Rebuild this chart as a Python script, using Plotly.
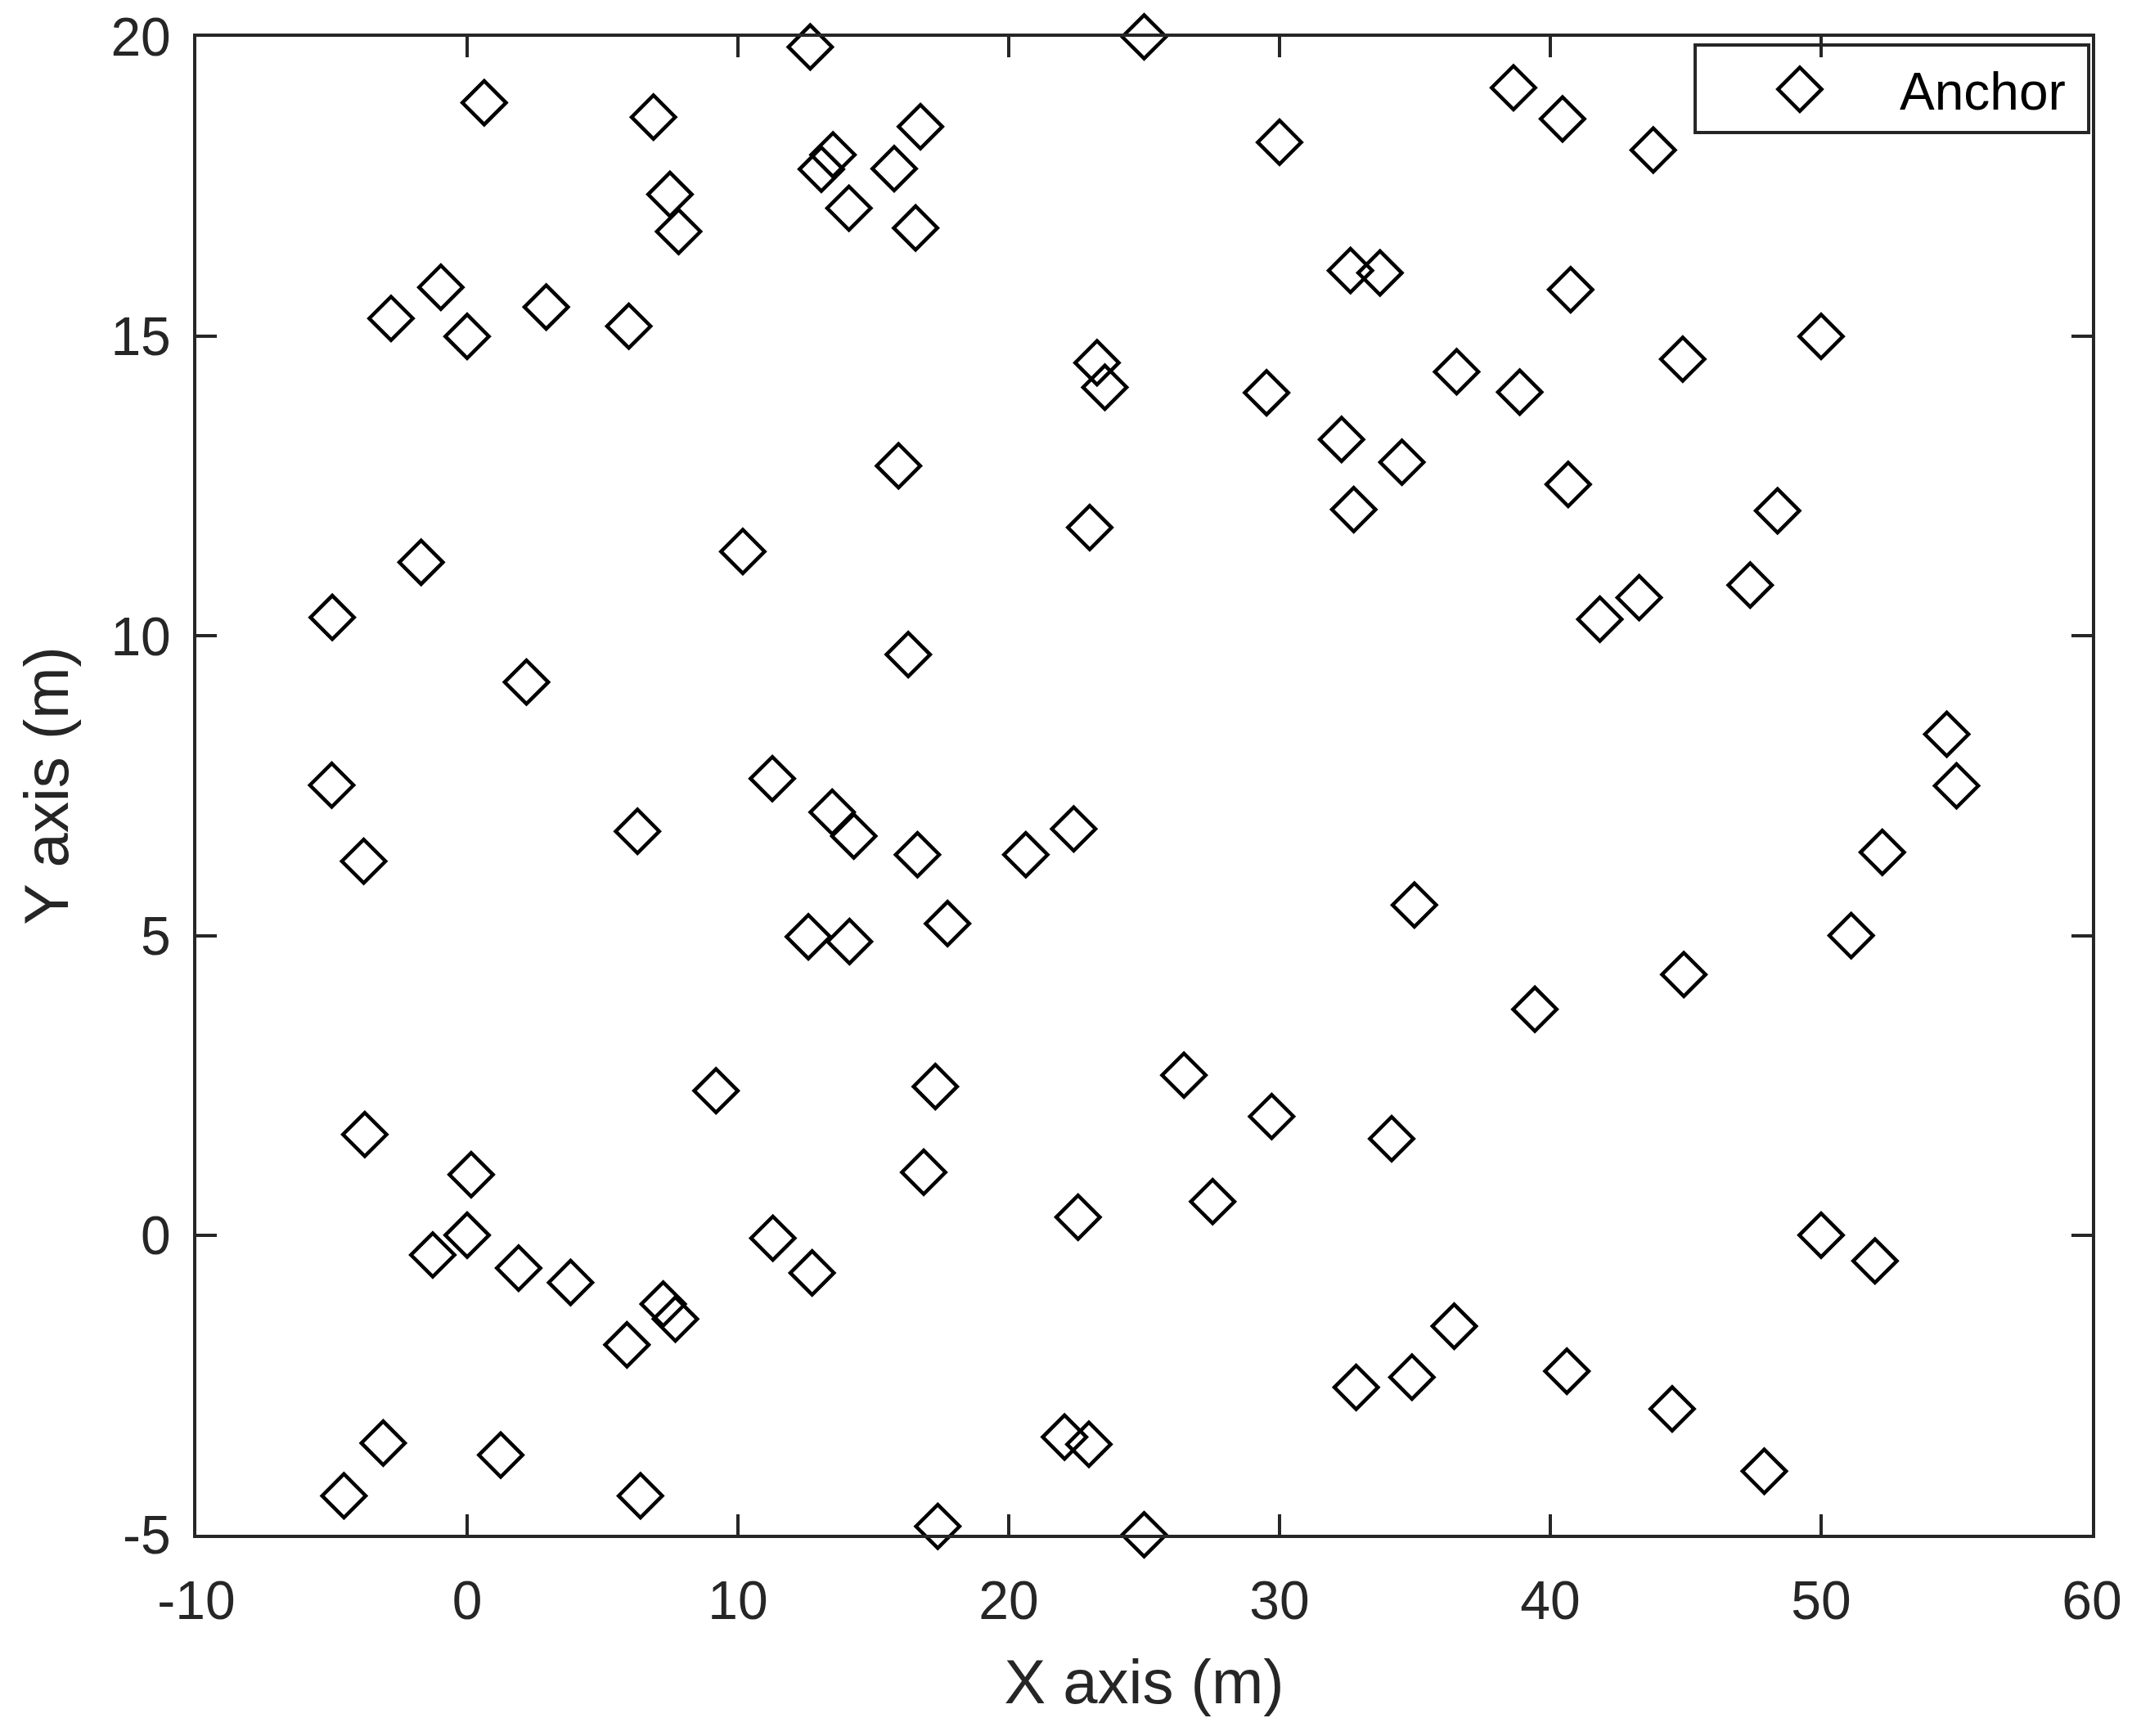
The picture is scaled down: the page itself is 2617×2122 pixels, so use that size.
import plotly.graph_objects as go

# anchor positions (metres)
anchor_x = [
    12.67, 0.63, 6.88, 16.74, 13.51, 13.08, 15.77, 7.49, 14.10, 7.81, 16.56,
    -0.97, -2.81, 0.00, 2.92, 5.97, 23.26, 23.55, 15.93, 22.99, 10.18, -1.70,
    -4.98, 2.19, 16.29, 25.00,
    30.00, 38.64, 40.45, 43.80, 32.62, 33.71, 40.75, 50.00, 44.89, 36.54, 38.87,
    29.52, 32.29, 34.52, 32.74, 40.66, 48.39, 47.38, 43.28, 41.83, 54.64, 55.00,
    -5.00, 11.27, 6.29, 13.48, 14.28, -3.82, 16.63, 20.63, 22.40, 12.60, 14.12,
    17.74, 9.19, 17.29, -3.78, 0.15, 16.86, 0.00, -1.27, 1.90, 3.82, 11.29,
    12.74, 7.24, 7.69, 5.90, -3.10, -4.55, 1.24, 6.40, 22.06, 22.96, 17.38,
    25.00, 22.56,
    52.26, 51.11, 34.98, 44.93, 39.43, 26.47, 29.71, 34.14, 27.53, 50.00, 51.99,
    36.45, 34.89, 32.83, 40.61, 44.50, 47.90,
]
anchor_y = [
    19.83, 18.90, 18.66, 18.50, 18.03, 17.79, 17.80, 17.37, 17.14, 16.75, 16.81,
    15.82, 15.30, 15.00, 15.49, 15.17, 14.56, 14.15, 12.84, 11.81, 11.41, 11.23,
    10.31, 9.23, 9.69, 20.00,
    18.24, 19.15, 18.63, 18.11, 16.10, 16.06, 15.78, 15.00, 14.62, 14.41, 14.07,
    14.06, 13.28, 12.90, 12.11, 12.53, 12.09, 10.85, 10.64, 10.28, 8.36, 7.50,
    7.51, 7.62, 6.74, 7.06, 6.66, 6.24, 6.35, 6.35, 6.78, 4.98, 4.90,
    5.20, 2.41, 2.48, 1.68, 1.01, 1.05, 0.00, -0.33, -0.55, -0.79, -0.05,
    -0.63, -1.15, -1.40, -1.83, -3.47, -4.35, -3.67, -4.35, -3.37, -3.49, -4.86,
    -5.00, 0.30,
    6.39, 5.00, 5.51, 4.35, 3.77, 2.67, 1.98, 1.61, 0.56, 0.00, -0.43,
    -1.52, -2.37, -2.54, -2.27, -2.90, -3.94,
]
legend_label = "Anchor"

x_ticks = [-10, 0, 10, 20, 30, 40, 50, 60]
x_ticktext = ["-10", "0", "10", "20", "30", "40", "50", "60"]
y_ticks = [-5, 0, 5, 10, 15, 20]
y_ticktext = ["-5", "0", "5", "10", "15", "20"]

AX = "#262626"
FONT = "Liberation Sans, Arial, Helvetica, sans-serif"

marker = dict(symbol="diamond-open", size=41, color="black", line=dict(width=4.5, color="black"))

fig = go.Figure()
fig.add_trace(
    go.Scatter(
        x=anchor_x,
        y=anchor_y,
        mode="markers",
        name=legend_label,
        marker=marker,
        cliponaxis=False,
        showlegend=False,
    )
)

# hand-made legend (plotly caps the legend marker size)
fig.add_trace(
    go.Scatter(
        x=[0.8459],
        y=[0.9650],
        xaxis="x2",
        yaxis="y2",
        mode="markers",
        marker=marker,
        cliponaxis=False,
        showlegend=False,
        hoverinfo="skip",
    )
)
fig.add_shape(
    type="rect",
    xref="paper",
    yref="paper",
    x0=0.7907,
    x1=0.9983,
    y0=0.9361,
    y1=0.9945,
    line=dict(color=AX, width=4),
    fillcolor="white",
    layer="between",
)
fig.add_annotation(
    text=legend_label,
    xref="paper",
    yref="paper",
    x=0.9871,
    y=0.9634,
    xanchor="right",
    yanchor="middle",
    showarrow=False,
    font=dict(family=FONT, size=64, color="black"),
)

axis_common = dict(
    showline=True,
    linewidth=4,
    linecolor=AX,
    mirror="ticks",
    ticks="inside",
    ticklen=25,
    tickwidth=4,
    tickcolor=AX,
    showgrid=False,
    zeroline=False,
    automargin=False,
    tickfont=dict(family=FONT, size=66, color=AX),
)

# page body has an 8px margin, so the figure is 16px smaller than the window
fig.update_layout(
    width=2601,
    height=2106,
    margin=dict(l=232, r=52, t=37, b=238),
    paper_bgcolor="white",
    plot_bgcolor="white",
    showlegend=False,
    font=dict(family=FONT, color=AX),
    xaxis=dict(
        range=[-10, 60],
        tickvals=x_ticks,
        ticktext=x_ticktext,
        ticklabelstandoff=20,
        title=dict(text="X axis (m)", font=dict(family=FONT, size=76, color=AX), standoff=38),
        **axis_common,
    ),
    yaxis=dict(
        range=[-5, 20],
        tickvals=y_ticks,
        ticktext=y_ticktext,
        ticklabelstandoff=14,
        title=dict(text="Y axis (m)", font=dict(family=FONT, size=76, color=AX), standoff=28),
        **axis_common,
    ),
    xaxis2=dict(overlaying="x", range=[0, 1], visible=False, fixedrange=True, automargin=False),
    yaxis2=dict(overlaying="y", range=[0, 1], visible=False, fixedrange=True, automargin=False),
)

fig.write_html("out.html")
